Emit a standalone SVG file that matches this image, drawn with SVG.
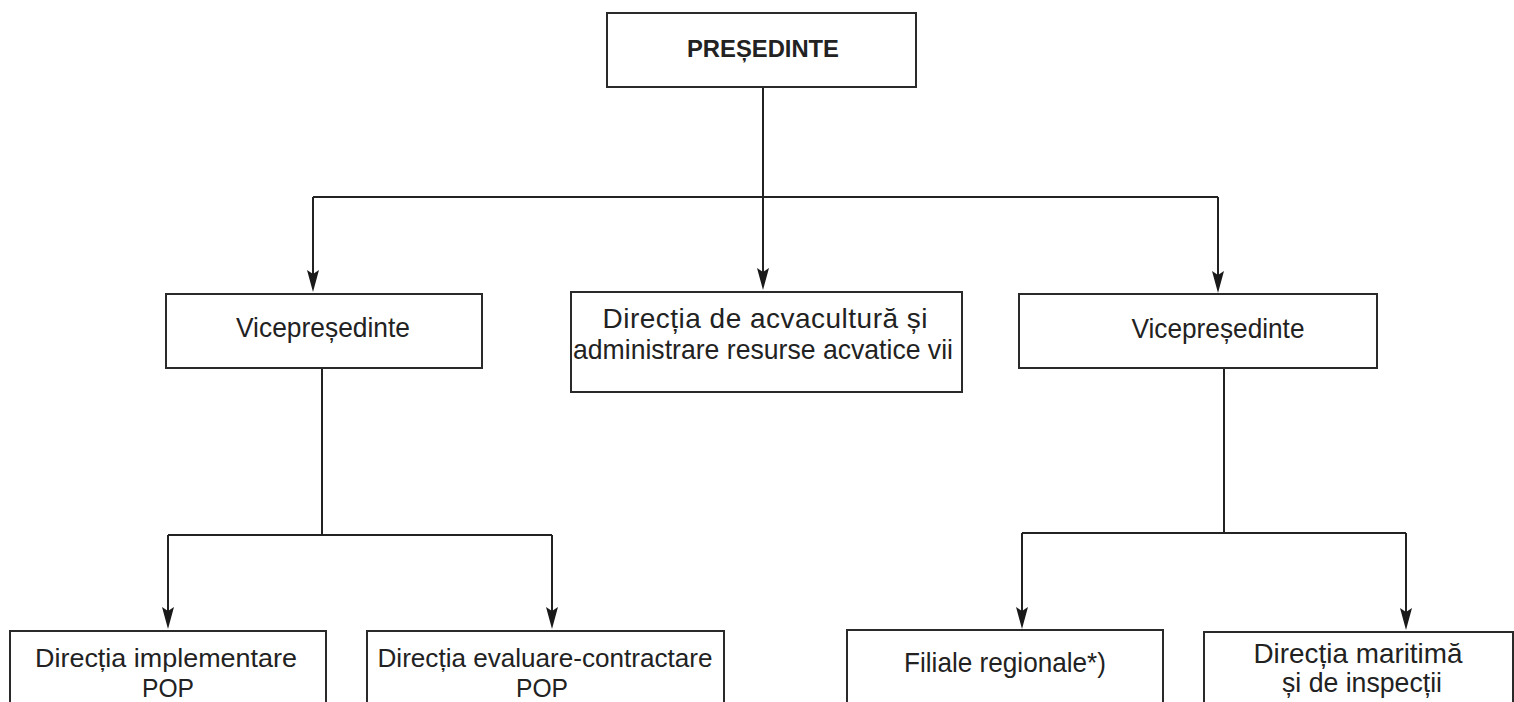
<svg xmlns="http://www.w3.org/2000/svg" width="1514" height="702" viewBox="0 0 1514 702">
<style>
.box{fill:#fff;stroke:#2a2a2a;stroke-width:2}
.t{font-family:"Liberation Sans",Arial,Helvetica,sans-serif;font-size:28px;fill:#222;text-anchor:middle}
.ts{font-family:"Liberation Sans",Arial,Helvetica,sans-serif;font-size:26px;fill:#222;text-anchor:middle}
.tb{font-family:"Liberation Sans",Arial,Helvetica,sans-serif;font-size:23px;font-weight:bold;fill:#222;text-anchor:middle}
.ln{fill:none;stroke:#222;stroke-width:2}
</style>
<defs>
<marker id="arr" viewBox="0 0 22 12" markerWidth="22" markerHeight="12" markerUnits="userSpaceOnUse" refX="12" refY="6" orient="auto">
<path d="M0,0 L22,6 L0,12 L4,6 Z" fill="#1a1a1a"/>
</marker>
</defs>
<rect width="1514" height="702" fill="#fff"/>
<g id="connectors">
<path class="ln" d="M763,87 V197"/>
<path class="ln" d="M313,197 H1218"/>
<path class="ln" d="M313,197 V282" marker-end="url(#arr)"/>
<path class="ln" d="M763,197 V280" marker-end="url(#arr)"/>
<path class="ln" d="M1218,197 V283" marker-end="url(#arr)"/>
<path class="ln" d="M322,368 V535"/>
<path class="ln" d="M168,535 H552"/>
<path class="ln" d="M168,535 V619" marker-end="url(#arr)"/>
<path class="ln" d="M552,535 V619" marker-end="url(#arr)"/>
<path class="ln" d="M1224,368 V533"/>
<path class="ln" d="M1022,533 H1406"/>
<path class="ln" d="M1022,533 V619" marker-end="url(#arr)"/>
<path class="ln" d="M1406,533 V620" marker-end="url(#arr)"/>
</g>
<g id="presedinte">
<rect class="box" x="607" y="13" width="309" height="74"/>
<text class="tb" x="763" y="57" textLength="152" lengthAdjust="spacingAndGlyphs">PREȘEDINTE</text>
</g>
<g id="vp-left">
<rect class="box" x="166" y="294" width="316" height="74"/>
<text class="t" x="323" y="337" textLength="174" lengthAdjust="spacingAndGlyphs">Vicepreședinte</text>
</g>
<g id="directia-acvacultura">
<rect class="box" x="571" y="292" width="391" height="100"/>
<text class="t" x="765" y="328" textLength="325" lengthAdjust="spacing">Direcția de acvacultură și</text>
<text class="t" x="763" y="359" textLength="380" lengthAdjust="spacingAndGlyphs">administrare resurse acvatice vii</text>
</g>
<g id="vp-right">
<rect class="box" x="1019" y="294" width="358" height="74"/>
<text class="t" x="1218" y="338" textLength="173" lengthAdjust="spacingAndGlyphs">Vicepreședinte</text>
</g>
<g id="directia-implementare">
<rect class="box" x="10" y="631" width="316" height="80"/>
<text class="ts" x="166" y="667" textLength="262" lengthAdjust="spacingAndGlyphs">Direcția implementare</text>
<text class="ts" x="168" y="697" textLength="52" lengthAdjust="spacingAndGlyphs">POP</text>
</g>
<g id="directia-evaluare">
<rect class="box" x="367" y="631" width="357" height="80"/>
<text class="ts" x="545" y="667" textLength="335" lengthAdjust="spacingAndGlyphs">Direcția evaluare-contractare</text>
<text class="ts" x="542" y="697" textLength="52" lengthAdjust="spacingAndGlyphs">POP</text>
</g>
<g id="filiale">
<rect class="box" x="847" y="630" width="316" height="80"/>
<text class="t" x="1005" y="672" textLength="202" lengthAdjust="spacingAndGlyphs">Filiale regionale*)</text>
</g>
<g id="directia-maritima">
<rect class="box" x="1204" y="632" width="309" height="80"/>
<text class="t" x="1358" y="663" textLength="209" lengthAdjust="spacingAndGlyphs">Direcția maritimă</text>
<text class="t" x="1362" y="692" textLength="160" lengthAdjust="spacingAndGlyphs">și de inspecții</text>
</g>
</svg>
